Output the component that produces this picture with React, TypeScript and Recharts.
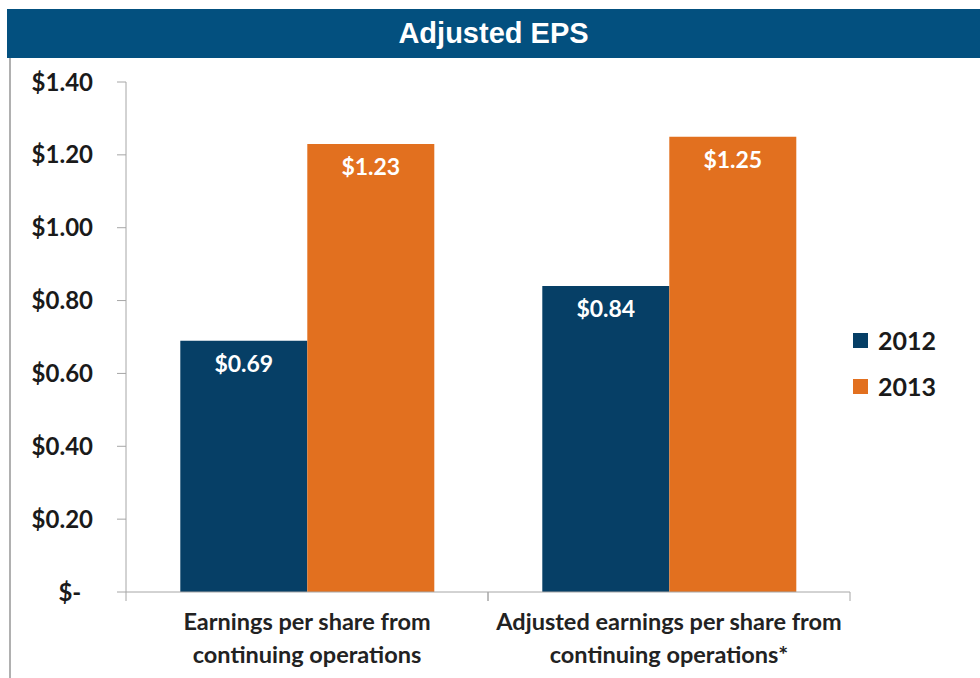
import React from 'react';
import { BarChart, Bar, XAxis, YAxis, LabelList } from 'recharts';

const categories = [
  ['Earnings per share from', 'continuing operations'],
  ['Adjusted earnings per share from', 'continuing operations*']
];
const years = ['2012', '2013'];
const eps2012 = [0.69, 0.84];
const eps2013 = [1.23, 1.25];
const yTicks = [0, 0.2, 0.4, 0.6, 0.8, 1.0, 1.2, 1.4];

const colors: Record<string, string> = { '2012': '#063f66', '2013': '#e2701f' };
const FONT = 'Lato, "Open Sans", sans-serif';

const data = categories.map((lines, i) => ({
  name: lines.join(' '),
  lines,
  '2012': eps2012[i],
  '2013': eps2013[i]
}));

const money = (v: number) => (v === 0 ? '$-\u00a0\u00a0' : `$${v.toFixed(2)}`);

// category label plus Excel-style tick marks on the category boundaries
const CategoryTick = (props: any) => {
  const { x, y, payload, index } = props;
  const half = payload && payload.offset ? payload.offset : 181;
  const row = data[index] || data[0];
  return (
    <g>
      <line x1={x - half} x2={x - half} y1={y} y2={y + 9} stroke="#a6a6a6" />
      <line x1={x + half} x2={x + half} y1={y} y2={y + 9} stroke="#a6a6a6" />
      {row.lines.map((t: string, k: number) => (
        <text
          key={k}
          x={x}
          y={y + 30 + k * 33}
          dy="0.35em"
          textAnchor="middle"
          fontFamily={FONT}
          fontWeight={700}
          fontSize={23.5}
          fill="#222"
        >
          {t}
        </text>
      ))}
    </g>
  );
};

export default function App() {
  return (
    <div style={{ position: 'absolute', left: 0, top: 0, width: 980, height: 678, background: '#fff', overflow: 'hidden' }}>
      <div style={{ position: 'absolute', left: 9, top: 58, width: 2, height: 620, background: '#b0b0b0' }} />
      <div
        style={{
          position: 'absolute', left: 7, top: 9, width: 973, height: 49, background: '#03507f',
          color: '#fff', fontFamily: '"Liberation Sans", Arial, sans-serif', fontWeight: 700,
          fontSize: 29, lineHeight: '49px', textAlign: 'center'
        }}
      >
        Adjusted EPS
      </div>
      <div style={{ position: 'absolute', left: 0, top: 0 }}>
        <BarChart
          width={980}
          height={678}
          data={data}
          margin={{ top: 82, right: 130, bottom: 0, left: 0 }}
          barCategoryGap="15%"
          barGap={0}
        >
          <XAxis
            dataKey="name"
            height={86}
            axisLine={{ stroke: '#a6a6a6' }}
            tickLine={false}
            tickSize={0}
            tickMargin={0}
            interval={0}
            tick={<CategoryTick />}
          />
          <YAxis
            width={126}
            domain={[0, 1.4]}
            ticks={yTicks}
            interval={0}
            tickFormatter={money}
            axisLine={{ stroke: '#a6a6a6' }}
            tickLine={{ stroke: '#a6a6a6' }}
            tickSize={9}
            tickMargin={24}
            tick={{ fontFamily: FONT, fontWeight: 700, fontSize: 24, fill: '#1a1a1a' }}
          />
          {years.map(y => (
            <Bar key={y} dataKey={y} fill={colors[y]} isAnimationActive={false}>
              <LabelList
                dataKey={y}
                position="insideTop"
                offset={15}
                formatter={(v: any) => `$${Number(v).toFixed(2)}`}
                style={{ fontFamily: FONT, fontWeight: 700, fontSize: 23, fill: '#fff' }}
              />
            </Bar>
          ))}
        </BarChart>
      </div>
      {years.map((y, i) => (
        <div
          key={y}
          style={{
            position: 'absolute', left: 853, top: 325 + i * 46, height: 30, display: 'flex',
            alignItems: 'center', fontFamily: FONT, fontWeight: 700, fontSize: 25, color: '#1a1a1a'
          }}
        >
          <span style={{ display: 'inline-block', width: 15, height: 15, background: colors[y], marginRight: 10 }} />
          {y}
        </div>
      ))}
    </div>
  );
}
